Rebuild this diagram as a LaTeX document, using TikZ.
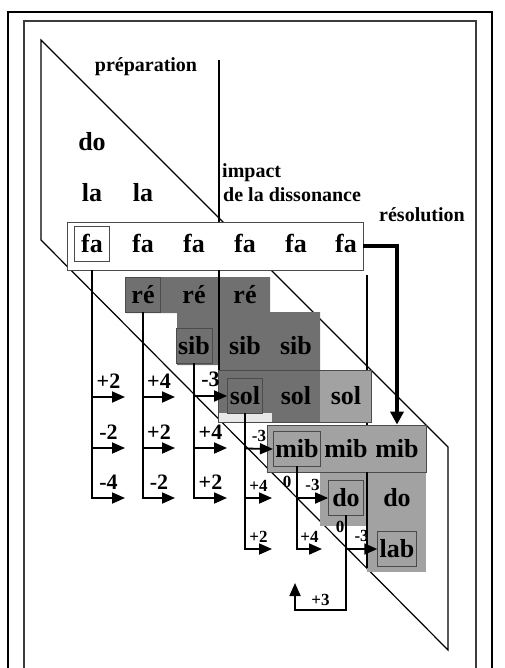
\documentclass[tikz,border=0pt]{standalone}
\usepackage{fontspec}
\setmainfont{Liberation Serif}
\usetikzlibrary{arrows.meta}

\definecolor{darkshade}{RGB}{112,112,112}
\definecolor{midshade}{RGB}{162,162,162}
\definecolor{paleshade}{RGB}{232,232,232}
\definecolor{edgegray}{RGB}{75,75,75}
\definecolor{framegray}{RGB}{60,60,60}

\tikzset{
  note/.style={font=\fontsize{26}{26}\selectfont\bfseries, text height=18pt, text depth=2pt,
    inner sep=2pt, minimum width=35pt, minimum height=35pt},
  notebox/.style={note, draw=edgegray, line width=0.8pt},
  rowbox/.style={draw=edgegray, line width=0.8pt, inner sep=0pt},
  heading/.style={font=\fontsize{20}{20}\selectfont\bfseries, inner sep=0pt},
  bigstep/.style={font=\fontsize{22}{22}\selectfont\bfseries, inner sep=0pt},
  smallstep/.style={font=\fontsize{17}{17}\selectfont\bfseries, inner sep=0pt},
  divider/.style={line width=1.6pt},
  stem/.style={line width=1.8pt, line cap=rect},
  hop/.style={stem, -{Triangle[length=13pt,width=11pt]}},
  resolve/.style={line width=4pt, -{Triangle[length=13pt,width=13pt]}},
}

\begin{document}
\begin{tikzpicture}[x=1pt,y=-1pt]
\useasboundingbox (0,0) rectangle (504,668);
\clip (0,0) rectangle (504,668);

% Frames
\draw[line width=2pt] (8,12) rectangle (492,690);
\draw[line width=1.5pt, draw=framegray] (24,21) rectangle (476,690);

% Slanted band
\draw[line width=1.2pt] (41,40) -- (448,447) -- (448,650) -- (41,240) -- cycle;

% Row of fa
\node[rowbox, fill=white, minimum width=296pt, minimum height=48pt] (farow) at (215,246) {};

% Dividers
\coordinate (imp) at (219,60);
\draw[divider] (imp) -- (imp |- farow.north);
\draw[line width=1.4pt] (367,275) -- (367,425);

% Shade the dissonance zone
\def\darkzone{(126,277) -- (270,277) -- (270,312) -- (320,312) -- (320,422) -- (219,422)
  -- (219,365) -- (177,365) -- (177,313) -- (126,313) -- cycle}
\fill[darkshade] \darkzone;
\fill[midshade] (320,370) rectangle (371,422);
\fill[paleshade] (219,413) rectangle (272,422);
\node[rowbox, minimum width=153pt, minimum height=52pt] (solrow) at (294.5,396) {};
\draw[divider] (imp |- farow.south) -- (imp |- solrow.north);

% Shade the resolution zone
\fill[midshade] (320,472) rectangle (367,526);
\fill[midshade] (367,472) rectangle (426,572);
\node[rowbox, fill=midshade, minimum width=159pt, minimum height=47pt] (mibrow) at (346.5,448.5) {};
\draw[line width=1.4pt] (mibrow.south -| 367,0) -- (367,568);

% Headings
\node[heading, anchor=base] (prep) at (146,72) {préparation};
\node[heading, anchor=base west] (impact) at (222,178) {impact};
\node[heading, anchor=base west] (diss) at (223,202) {de la dissonance};
\node[heading, anchor=base] (resol) at (422,222) {résolution};

% Notes
\node[note] (do0) at (92,143) {do};
\foreach \x [count=\i from 0] in {92,143} \node[note] (la\i) at (\x,193) {la};
\node[notebox] (fa0) at (92,244) {fa};
\foreach \x [count=\i] in {143,194,245,296,346} \node[note] (fa\i) at (\x,244) {fa};
\node[notebox] (re1) at (143,295) {ré};
\node[note] (re2) at (194,295) {ré};
\node[note] (re3) at (245,295) {ré};
\node[notebox] (sib2) at (194,346) {sib};
\node[note] (sib3) at (245,346) {sib};
\node[note] (sib4) at (296,346) {sib};
\node[notebox] (sol3) at (245,396) {sol};
\node[note] (sol4) at (296,396) {sol};
\node[note] (sol5) at (346,396) {sol};
\node[notebox] (mib4) at (297,449) {mib};
\node[note] (mib5) at (346,449) {mib};
\node[note] (mib6) at (397,449) {mib};
\node[notebox] (do5) at (346,498) {do};
\node[note] (do6) at (397,498) {do};
\node[notebox] (lab6) at (397,549) {lab};

% Resolution arrow
\draw[resolve] (farow.east) -| (mibrow.north -| mib6);

% Steps from fa
\foreach \y/\lab [count=\i] in {397/+2,448/-2,498/-4}{
  \coordinate (fa0t\i) at (125,\y);
  \draw[hop] (fa0t\i -| fa0) -- (fa0t\i) node[midway, above=8pt, bigstep] (fa0l\i) {\lab};
}
\draw[stem] (farow.south -| fa0) -- (fa0t3 -| fa0);

% Steps from re
\foreach \y/\lab [count=\i] in {397/+4,448/+2,498/-2}{
  \coordinate (re1t\i) at (175,\y);
  \draw[hop] (re1t\i -| re1) -- (re1t\i) node[midway, above=8pt, bigstep] (re1l\i) {\lab};
}
\draw[stem] (re1.south) -- (re1t3 -| re1);

% Steps from sib
\coordinate (sib2t2) at (227,448);
\coordinate (sib2t3) at (227,498);
\draw[stem] (sib2.south) -- (sib2t3 -| sib2);
\draw[hop] (sib2 |- sol3) -- (sol3.west) node[midway, above=8pt, bigstep] (sib2l1) {-3};
\draw[hop] (sib2t2 -| sib2) -- (sib2t2) node[midway, above=8pt, bigstep] (sib2l2) {+4};
\draw[hop] (sib2t3 -| sib2) -- (sib2t3) node[midway, above=8pt, bigstep] (sib2l3) {+2};

% Steps from sol
\coordinate (sol3t2) at (272,498);
\coordinate (sol3t3) at (272,549);
\draw[stem] (sol3.south) -- (sol3t3 -| sol3);
\draw[hop] (sol3 |- mibrow) -- (mib4.west) node[midway, above=6pt, smallstep] (sol3l1) {-3};
\draw[hop] (sol3t2 -| sol3) -- (sol3t2) node[midway, above=6pt, smallstep] (sol3l2) {+4};
\draw[hop] (sol3t3 -| sol3) -- (sol3t3) node[midway, above=6pt, smallstep] (sol3l3) {+2};

% Steps from mib
\coordinate (mib4t2) at (322,549);
\node[smallstep] (mib4z) at (287,482) {0};
\draw[stem] (mib4.south) -- (mib4t2 -| mib4);
\draw[hop] (mib4 |- do5) -- (do5.west) node[midway, above=6pt, smallstep] (mib4l1) {-3};
\draw[hop] (mib4t2 -| mib4) -- (mib4t2) node[midway, above=6pt, smallstep] (mib4l2) {+4};

% Steps from do
\coordinate (do5b) at (346,610);
\coordinate (do5t) at (295,583);
\node[smallstep] (do5z) at (340,527) {0};
\draw[hop] (do5 |- lab6) -- (lab6.west) node[midway, above=6pt, smallstep] (do5l1) {-3};
\draw[hop] (do5.south) -- (do5b) -| (do5t) node[pos=0.25, above=3pt, smallstep] (do5l2) {+3};
\end{tikzpicture}
\end{document}
